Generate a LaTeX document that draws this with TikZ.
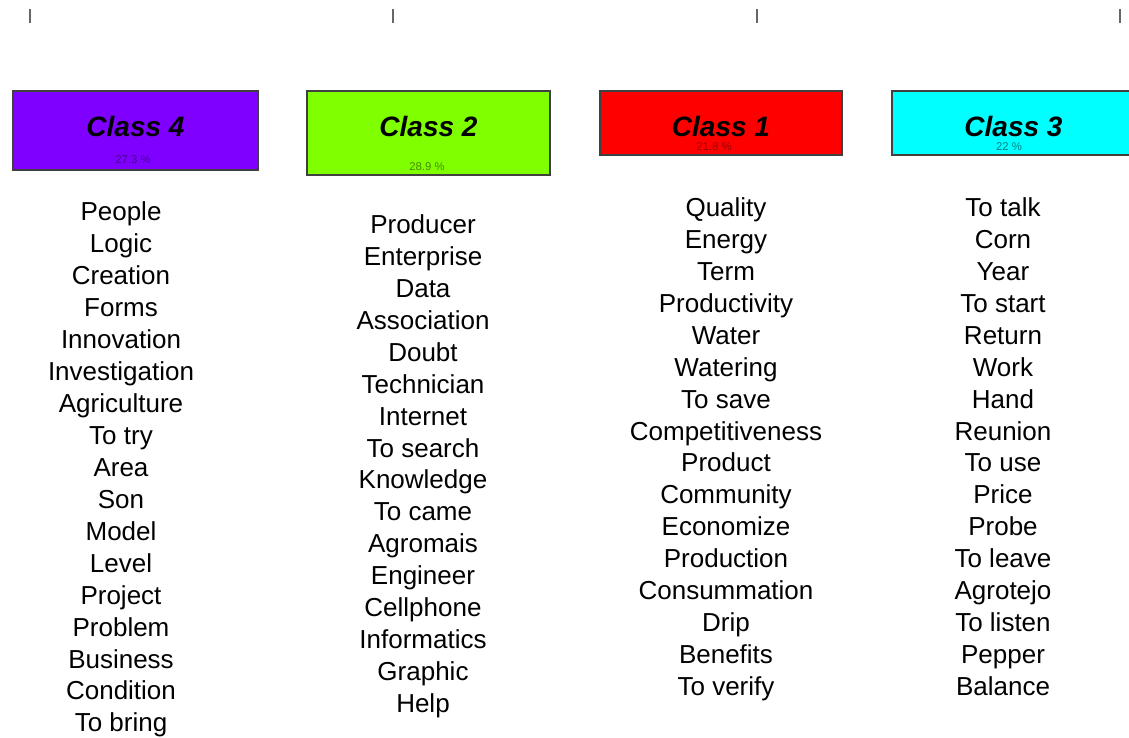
\documentclass[tikz,border=0pt]{standalone}
\usepackage{fontspec}
\setmainfont{Liberation Sans}
\usetikzlibrary{positioning}

\definecolor{violetbox}{HTML}{8000FF}
\definecolor{greenbox}{HTML}{80FF00}
\definecolor{redbox}{HTML}{FF0000}
\definecolor{cyanbox}{HTML}{00FFFF}

\begin{document}
\begin{tikzpicture}[x=0.75pt,y=-0.75pt,
  classbox/.style={draw=black!75,line width=1pt,inner sep=0pt},
  classname/.style={font=\fontsize{21}{24}\selectfont\bfseries\itshape},
  share/.style={font=\fontsize{8.5}{9}\selectfont,inner sep=0pt},
  word/.style={font=\fontsize{19.5}{24}\selectfont,anchor=base,inner sep=0pt}]

\clip (0,0) rectangle (1129,738);

\foreach \t in {29.5,393,757,1120} \draw[black!60,line width=1.5pt] (\t,9) -- (\t,23);

\node[classbox,fill=violetbox,minimum width=183.75pt,minimum height=59.25pt] (c4) at (135.5,130.5) {};
\node[classbox,fill=greenbox,minimum width=182.25pt,minimum height=63pt] (c2) at (428.5,133) {};
\node[classbox,fill=redbox,minimum width=181.5pt,minimum height=48pt] (c1) at (721,123) {};
\node[classbox,fill=cyanbox,minimum width=182.25pt,minimum height=48pt] (c3) at (1013.5,123) {};

\node[classname] (t4) at (135.5,126) {Class 4};
\node[classname] (t2) at (428.5,126) {Class 2};
\node[classname] (t1) at (721,126) {Class 1};
\node[classname] (t3) at (1013.5,126) {Class 3};

\node[share,text=violetbox!55!black] (p4) at (133,160) {27.3 \%};
\node[share,text=greenbox!55!black] (p2) at (427,167) {28.9 \%};
\node[share,text=redbox!60!black] (p1) at (714,147) {21.8 \%};
\node[share,text=cyanbox!50!black] (p3) at (1009,147) {22 \%};

% word lists
\foreach \w [count=\i from 0] in {People,Logic,Creation,Forms,Innovation,Investigation,Agriculture,To try,Area,Son,Model,Level,Project,Problem,Business,Condition,To bring}
  \node[word] (w4-\i) at (121,{221+31.93*\i}) {\w};
\foreach \w [count=\i from 0] in {Producer,Enterprise,Data,Association,Doubt,Technician,Internet,To search,Knowledge,To came,Agromais,Engineer,Cellphone,Informatics,Graphic,Help}
  \node[word] (w2-\i) at (423,{233.5+31.93*\i}) {\w};
\foreach \w [count=\i from 0] in {Quality,Energy,Term,Productivity,Water,Watering,To save,Competitiveness,Product,Community,Economize,Production,Consummation,Drip,Benefits,To verify}
  \node[word] (w1-\i) at (726,{216.5+31.93*\i}) {\w};
\foreach \w [count=\i from 0] in {To talk,Corn,Year,To start,Return,Work,Hand,Reunion,To use,Price,Probe,To leave,Agrotejo,To listen,Pepper,Balance}
  \node[word] (w3-\i) at (1003,{216.5+31.93*\i}) {\w};

\end{tikzpicture}
\end{document}
